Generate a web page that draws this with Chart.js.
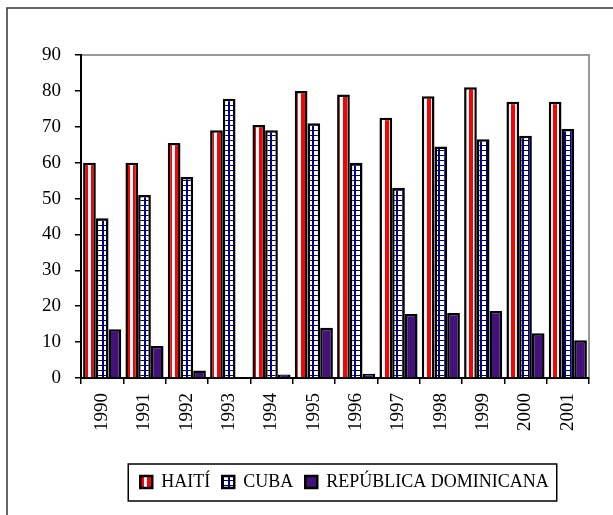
<!DOCTYPE html>
<html>
<head>
<meta charset="utf-8">
<script src="https://cdn.jsdelivr.net/npm/chart.js@4.4.0/dist/chart.umd.min.js"></script>
<style>
  body { margin: 0; background: #fff; }
  #wrap { width: 613px; height: 515px; }
</style>
</head>
<body>
<div id="wrap"><canvas id="chart" width="613" height="515"></canvas></div>
<script>
const years = ['1990', '1991', '1992', '1993', '1994', '1995', '1996', '1997', '1998', '1999', '2000', '2001'];
const haiti = [60, 60, 65.5, 69, 70.5, 80, 79, 72.5, 78.5, 81, 77, 77];
const cuba = [44.5, 51, 56, 77.8, 69, 71, 60, 53, 64.5, 66.5, 67.5, 69.4];
const dominicana = [13.6, 8.9, 2.1, 0.3, 1, 14, 1.2, 17.8, 18.1, 18.7, 12.5, 10.5];
const seriesNames = ['HAITÍ', 'CUBA', 'REPÚBLICA DOMINICANA'];

const FONT = 'Liberation Serif';

// vertical red / white stripes
function stripePattern() {
  const c = document.createElement('canvas');
  c.width = 7; c.height = 4;
  const g = c.getContext('2d');
  g.fillStyle = '#fff';
  g.fillRect(0, 0, 7, 4);
  g.fillStyle = '#ff0000';
  g.fillRect(0, 0, 4, 4);
  return g.createPattern(c, 'repeat');
}

// navy ladder grid on white
function gridPattern() {
  const c = document.createElement('canvas');
  c.width = 6; c.height = 5;
  const g = c.getContext('2d');
  g.fillStyle = '#fff';
  g.fillRect(0, 0, 6, 5);
  g.fillStyle = '#000080';
  g.fillRect(0, 0, 2, 5);
  g.fillRect(0, 0, 6, 1);
  return g.createPattern(c, 'repeat');
}

const frame = {
  id: 'frame',
  afterLayout(chart) {
    // centre the legend under the plot like the original
    const lg = chart.legend;
    lg.left += 50;
    lg.right += 50;
  },
  beforeDraw(chart) {
    const ctx = chart.ctx;
    ctx.save();
    ctx.fillStyle = '#fff';
    ctx.fillRect(0, 0, chart.width, chart.height);
    ctx.strokeStyle = '#333';
    ctx.lineWidth = 1.5;
    ctx.beginPath();
    ctx.moveTo(7, chart.height);
    ctx.lineTo(7, 8);
    ctx.lineTo(chart.width, 8);
    ctx.stroke();
    const a = chart.chartArea;
    ctx.strokeStyle = '#999';
    ctx.lineWidth = 2;
    ctx.beginPath();
    ctx.moveTo(a.left, a.top);
    ctx.lineTo(a.right, a.top);
    ctx.lineTo(a.right, a.bottom);
    ctx.stroke();
    ctx.restore();
  },
  afterDraw(chart) {
    const boxes = chart.legend.legendHitBoxes;
    if (!boxes || !boxes.length) return;
    const left = Math.min(...boxes.map(b => b.left)) - 12;
    const right = Math.max(...boxes.map(b => b.left + b.width)) + 8;
    const top = boxes[0].top - 9;
    const bottom = boxes[0].top + boxes[0].height + 10;
    const ctx = chart.ctx;
    ctx.save();
    ctx.strokeStyle = '#000';
    ctx.lineWidth = 1.5;
    ctx.strokeRect(left, top, right - left, bottom - top);
    ctx.restore();
  }
};

const ctx = document.getElementById('chart').getContext('2d');
const chart = new Chart(ctx, {
  type: 'bar',
  data: {
    labels: years,
    datasets: [
      { label: seriesNames[0], data: haiti, backgroundColor: stripePattern(), borderColor: '#000', borderWidth: 2.5 },
      { label: seriesNames[1], data: cuba, backgroundColor: gridPattern(), borderColor: '#000', borderWidth: 2.5 },
      { label: seriesNames[2], data: dominicana, backgroundColor: '#42127a', borderColor: '#000', borderWidth: 2.5 }
    ]
  },
  options: {
    responsive: false,
    animation: false,
    layout: { padding: { left: 0, right: 24, top: 55, bottom: 14 } },
    datasets: { bar: { categoryPercentage: 0.9, barPercentage: 1.0 } },
    plugins: {
      legend: {
        position: 'bottom',
        labels: {
          font: { family: FONT, size: 18 },
          color: '#000',
          boxWidth: 12,
          boxHeight: 12,
          padding: 12
        }
      },
      tooltip: { enabled: false }
    },
    scales: {
      x: {
        grid: { drawOnChartArea: false, drawTicks: true, tickLength: 6, color: '#000', lineWidth: 1.5 },
        border: { color: '#000', width: 2 },
        ticks: {
          font: { family: FONT, size: 19 },
          color: '#000',
          autoSkip: false,
          minRotation: 90,
          maxRotation: 90,
          padding: 9
        },
        afterFit(scale) { scale.height = 83; }
      },
      y: {
        min: 0,
        max: 90,
        grid: { drawOnChartArea: false, drawTicks: true, tickLength: 6, color: '#000', lineWidth: 1.5 },
        border: { color: '#000', width: 2 },
        ticks: {
          stepSize: 10,
          font: { family: FONT, size: 19 },
          color: '#000',
          padding: 14
        },
        afterFit(scale) { scale.width = 81; }
      }
    }
  },
  plugins: [frame]
});
</script>
</body>
</html>
